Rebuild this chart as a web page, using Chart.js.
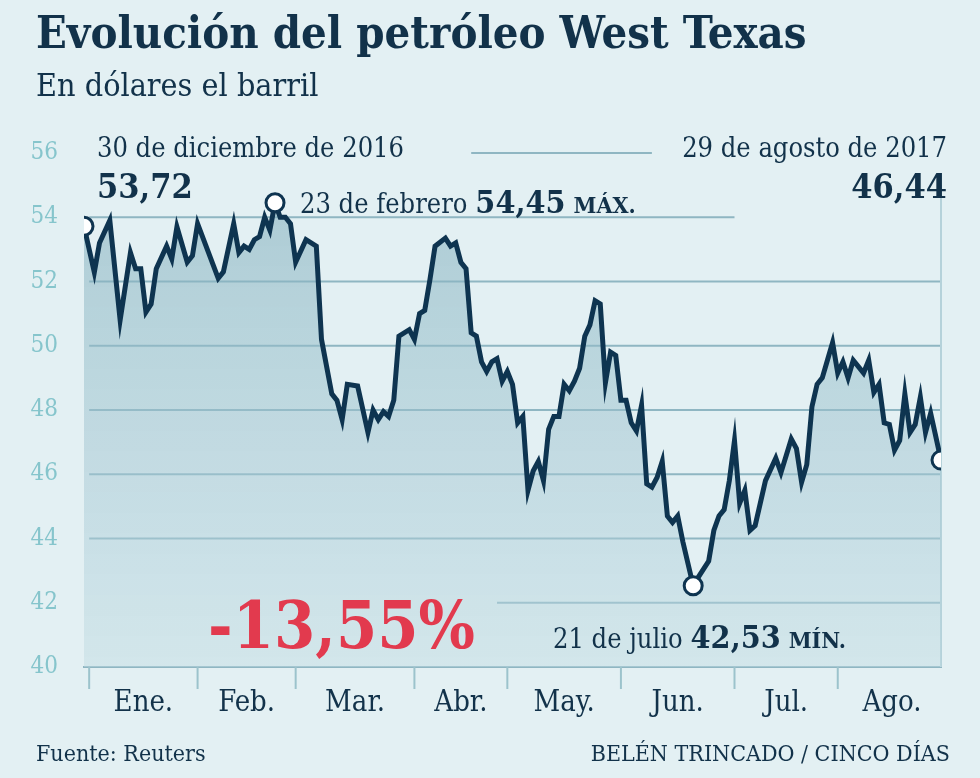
<!DOCTYPE html>
<html><head><meta charset="utf-8">
<script src="https://cdn.jsdelivr.net/npm/chart.js@4"></script>
<style>
body{margin:0;background:#e3f0f3;}
#wrap{position:relative;width:980px;height:778px;overflow:hidden;background:#e3f0f3;font-family:"DejaVu Serif Condensed","DejaVu Serif",serif;color:#12324a;}
#t{position:absolute;left:36px;top:6px;font-size:45px;font-weight:bold;white-space:nowrap;}
#s{position:absolute;left:36px;top:66px;font-size:32px;}
#f1{position:absolute;left:36px;top:740px;font-size:23px;}
#f2{position:absolute;right:30px;top:740px;font-size:23px;}
canvas{position:absolute;left:0;top:0;}
</style></head><body>
<div id="wrap">
<canvas id="c" width="980" height="778"></canvas>
<div id="t">Evolución del petróleo West Texas</div>
<div id="s">En dólares el barril</div>
<div id="f1">Fuente: Reuters</div>
<div id="f2">BELÉN TRINCADO / CINCO DÍAS</div>
</div>
<script>
const days=[0,2,3,5,7,9,10,11,12,13,14,16,17,18,20,21,22,26,27,29,30,31,32,33,34,35,36,37,38,39,40,41,43,45,46,48,49,50,51,53,55,56,57,58,59,60,61,63,64,65,66,67,68,70,71,72,73,74,75,76,77,78,79,80,81,82,83,84,85,86,87,88,89,90,91,92,93,94,95,96,97,98,99,100,101,102,103,104,105,106,107,108,109,110,111,112,113,114,115,116,118,119,121,122,123,124,125,126,127,128,129,130,131,132,134,135,137,138,139,140,141,142,143,144,145,146,147,148,149,150,151,152,153,154,155,156,157,158,159,160,161,162,163,164,166];
const prices=[53.72,52.29,53.2,53.9,50.8,52.9,52.4,52.4,51.05,51.3,52.4,53.1,52.7,53.7,52.6,52.8,53.8,52.1,52.3,53.8,52.9,53.1,53.0,53.3,53.4,54.0,53.6,54.45,54.0,54.0,53.8,52.6,53.3,53.1,50.2,48.5,48.3,47.7,48.8,48.75,47.3,48.0,47.7,47.95,47.8,48.3,50.3,50.5,50.2,51.0,51.1,52.05,53.1,53.35,53.1,53.2,52.6,52.4,50.4,50.3,49.5,49.2,49.5,49.6,48.9,49.2,48.8,47.6,47.8,45.5,46.1,46.4,45.8,47.4,47.8,47.8,48.8,48.6,48.9,49.3,50.3,50.65,51.4,51.3,48.85,49.8,49.7,48.3,48.3,47.6,47.35,48.15,45.7,45.6,45.9,46.4,44.7,44.5,44.7,43.9,42.53,42.8,43.3,44.25,44.7,44.9,45.8,47.05,45.1,45.5,44.25,44.4,45.1,45.8,46.5,46.05,47.1,46.8,45.75,46.3,48.1,48.8,49.0,49.55,50.1,49.15,49.5,49.0,49.55,49.35,49.15,49.55,48.55,48.8,47.6,47.55,46.75,47.05,48.5,47.3,47.55,48.4,47.3,47.9,46.44];
const months=["Ene.","Feb.","Mar.","Abr.","May.","Jun.","Jul.","Ago."];
const monthStarts=[1,22,41,64,82,104,126,146];
const lastDay=166;
const yTicks=[40,42,44,46,48,50,52,54,56];
// horizontal extent (in days) of each gridline, left open around the annotations
const gridFrom=[1,80,1,1,1,1,1,1,75];
const gridTo=[166,166,166,166,166,166,166,126,110];
const markDays=[0,37,118,166];

const pts=days.map((d,i)=>({x:d,y:prices[i]}));
const monthCenters=monthStarts.map((s,i)=>(s+(i<monthStarts.length-1?monthStarts[i+1]:lastDay+1))/2);
const F='"DejaVu Serif Condensed","DejaVu Serif",serif';
const dark='#12324a';

const deco={id:'deco',
 beforeDatasetsDraw(ch){
  const c=ch.ctx,x=ch.scales.x,y=ch.scales.y,a=ch.chartArea;
  c.save();c.strokeStyle='#8fb6c2';c.lineWidth=2;
  yTicks.forEach((v,i)=>{if(v===40)return;const py=y.getPixelForValue(v);c.beginPath();c.moveTo(x.getPixelForValue(gridFrom[i]),py);c.lineTo(x.getPixelForValue(gridTo[i]),py);c.stroke();});
  c.strokeStyle='#b5d2da';c.beginPath();c.moveTo(a.right,y.getPixelForValue(55));c.lineTo(a.right,a.bottom);c.stroke();
  c.restore();
 },
 afterDraw(ch){
  const c=ch.ctx,x=ch.scales.x,a=ch.chartArea;
  c.save();
  c.strokeStyle='#9cc3cc';c.lineWidth=2;
  monthStarts.forEach(s=>{const px=x.getPixelForValue(s);c.beginPath();c.moveTo(px,a.bottom);c.lineTo(px,a.bottom+22);c.stroke();});
  c.fillStyle=dark;c.textBaseline='alphabetic';
  const t=(s,px,py,sz,b,al)=>{c.font=(b?'bold ':'')+sz+'px '+F;c.textAlign=al||'left';c.fillText(s,px,py);return c.measureText(s).width;};
  t('30 de diciembre de 2016',97,157,27,false);
  t('53,72',97,198,34,true);
  let w=t('23 de febrero',300,213,27,false);
  let w2=t('54,45',300+w+8,213,32,true);
  t('MÁX.',300+w+8+w2+8,213,23,true);
  t('29 de agosto de 2017',947,157,27,false,'right');
  t('46,44',947,198,34,true,'right');
  w=t('21 de julio',553,648,27,false);
  w2=t('42,53',553+w+8,648,32,true);
  t('MÍN.',553+w+8+w2+8,648,23,true);
  c.fillStyle='#e23a4e';
  t('-13,55%',208,648,66,true);
  c.restore();
 }};

new Chart(document.getElementById('c'),{
 type:'line',
 data:{datasets:[{data:pts,borderColor:'#0e3450',borderWidth:5,tension:0,
  fill:{target:{value:40}},
  backgroundColor:(ctx)=>{const a=ctx.chart.chartArea;if(!a)return '#c0d8df';const g=ctx.chart.ctx.createLinearGradient(0,a.top,0,a.bottom);g.addColorStop(0,'rgba(120,168,184,0.55)');g.addColorStop(1,'rgba(190,218,226,0.45)');return g;},
  pointRadius:ctx=>markDays.includes(ctx.raw&&ctx.raw.x)?9:0,
  pointBackgroundColor:'#ffffff',pointBorderColor:'#0e3450',pointBorderWidth:3}]},
 options:{responsive:false,animation:false,
  layout:{padding:{left:0,right:39,top:153,bottom:0}},
  plugins:{legend:{display:false},tooltip:{enabled:false}},
  scales:{
   x:{type:'linear',min:0,max:lastDay,
    afterFit:s=>{s.height=111;},
    afterBuildTicks:s=>{s.ticks=monthCenters.map(v=>({value:v}));},
    ticks:{callback:(v,i)=>months[i],color:dark,font:{family:F,size:29},padding:11,maxRotation:0,autoSkip:false},
    grid:{display:false},border:{color:'#8fb6c2',width:2}},
   y:{min:40,max:56,
    afterFit:s=>{s.width=84;},
    afterBuildTicks:s=>{s.ticks=yTicks.map(v=>({value:v}));},
    ticks:{color:'#86c5cc',font:{family:F,size:24},padding:18},
    grid:{display:false},border:{display:false}}
  }},
 plugins:[deco]
});
</script></body></html>
